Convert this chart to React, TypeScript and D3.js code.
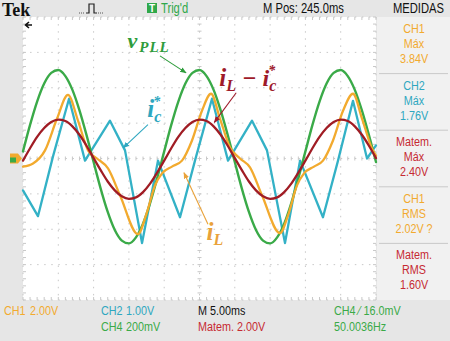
import React, { useEffect, useRef } from 'react';
import * as d3 from 'd3';

const W = 450;
const H = 341;

// 10 horizontal divisions of 5 ms, 8 vertical divisions
const timeDomain: [number, number] = [0, 50];
const divDomain: [number, number] = [-4, 4];

// sinusoidal traces read every 1 ms (values in divisions)
const sampleMs = d3.range(0, 51);
const vPll = [
  0.2, 0.95, 1.61, 2.12, 2.42, 2.5, 2.33, 1.94, 1.36, 0.66,
  -0.1, -0.85, -1.51, -2.02, -2.32, -2.4, -2.23, -1.84, -1.26, -0.56,
  0.2, 0.95, 1.61, 2.12, 2.42, 2.5, 2.33, 1.94, 1.36, 0.66,
  -0.1, -0.85, -1.51, -2.02, -2.32, -2.4, -2.23, -1.84, -1.26, -0.56,
  0.2, 0.95, 1.61, 2.12, 2.42, 2.5, 2.33, 1.94, 1.36, 0.66, -0.1,
];
const iLminusIc = [
  -0.06, 0.29, 0.61, 0.86, 1.03, 1.1, 1.06, 0.91, 0.67, 0.36,
  0.01, -0.33, -0.65, -0.9, -1.07, -1.14, -1.1, -0.95, -0.71, -0.4,
  -0.06, 0.29, 0.61, 0.86, 1.03, 1.1, 1.06, 0.91, 0.67, 0.36,
  0.01, -0.33, -0.65, -0.9, -1.07, -1.14, -1.1, -0.95, -0.71, -0.4,
  -0.06, 0.29, 0.61, 0.86, 1.03, 1.1, 1.06, 0.91, 0.67, 0.36, 0.01,
];

// distorted traces: [ms, div]
const icRef: [number, number][] = [
  [0, -0.9], [2.12, -1.63], [4.25, 0.06], [6.52, 1.69], [8.78, -0.06],
  [12.32, 1.07], [14.45, 0.23], [16.86, -2.39], [19.12, -0.06], [22.24, -1.66],
  [24.36, -0.06], [26.77, 1.69], [29.04, -0.06], [32.44, 1.07], [34.56, 0.23],
  [37.11, -2.39], [39.24, -0.06], [42.49, -1.66], [44.62, -0.06], [46.74, 1.63],
  [48.73, 0.0], [50, 0.37],
];
const iLoad: [number, number][] = [
  [0, -0.23], [1.42, -0.14], [3.12, 0.23], [4.82, 1.13], [6.37, 1.8],
  [7.79, 1.07], [9.21, 0.23], [10.48, 0.0], [12.04, -0.28], [13.74, -1.04],
  [16.29, -2.14], [17.42, -1.61], [18.7, -0.76], [19.69, -0.42], [21.1, -0.23],
  [22.52, -0.06], [23.94, 0.51], [25.35, 1.35], [26.63, 1.83], [27.9, 1.13],
  [29.32, 0.31], [30.74, 0.0], [32.15, -0.25], [33.85, -1.04], [36.4, -2.11],
  [37.54, -1.61], [38.81, -0.76], [39.8, -0.42], [41.22, -0.23], [42.49, -0.06],
  [43.91, 0.51], [45.33, 1.35], [46.74, 1.83], [48.02, 1.13], [49.43, 0.28],
  [50, 0.08],
];

// measurement panel
const measureChannels = ['CH1', 'CH2', 'Matem.', 'CH1', 'Matem.'];
const measureKinds = ['Máx', 'Máx', 'Máx', 'RMS', 'RMS'];
const measureValues = ['3.84V', '1.76V', '2.40V', '2.02V ?', '1.60V'];

// status bar
const scaleRow1 = ['CH1', '2.00V', 'CH2', '1.00V', 'M 5.00ms', 'CH4 ⁄ 16.0mV'];
const scaleRow2 = ['CH4', '200mV', 'Matem. 2.00V', '50.0036Hz'];

const C = {
  ch1: '#f2aa2e',
  ch2: '#33b1c6',
  ch4: '#3aaa48',
  math: '#a01c24',
  mathText: '#c62a32',
  grid: '#c8c8c8',
};
const channelColor = (c: string) =>
  c === 'CH1' ? C.ch1 : c === 'CH2' ? '#2ea7c0' : c === 'CH4' ? C.ch4 : C.mathText;

export default function App() {
  const svgRef = useRef<SVGSVGElement | null>(null);

  useEffect(() => {
    if (!svgRef.current) return;
    const svg = d3.select(svgRef.current);
    svg.selectAll('*').remove();

    const plot = { left: 23, right: 376, top: 17, bottom: 300 };
    const x = d3.scaleLinear().domain(timeDomain).range([plot.left, plot.right]);
    const y = d3.scaleLinear().domain(divDomain).range([plot.bottom, plot.top]);
    const sans = "'Liberation Sans', Arial, sans-serif";
    const serif = "'Liberation Serif', 'Times New Roman', serif";

    // condensed text, like the scope's narrow font
    const narrow = (px: number, py: number, s: string, col: string, size = 12.5, anchor = 'start') =>
      svg.append('text')
        .attr('transform', `translate(${px},${py}) scale(0.8,1)`)
        .attr('text-anchor', anchor)
        .attr('font-family', sans).attr('font-size', size)
        .attr('fill', col).text(s);

    // backgrounds
    svg.append('rect').attr('width', W).attr('height', H).attr('fill', '#e6e6e6');
    svg.append('rect')
      .attr('x', plot.left).attr('y', plot.top)
      .attr('width', plot.right - plot.left).attr('height', plot.bottom - plot.top)
      .attr('fill', '#ffffff');
    svg.append('rect')
      .attr('x', plot.right + 1).attr('y', plot.top)
      .attr('width', W - plot.right - 1).attr('height', plot.bottom - plot.top)
      .attr('fill', '#f1f1f1');

    // graticule
    const grid = svg.append('g').attr('stroke', C.grid).attr('stroke-width', 1);
    d3.range(0, 51, 5).forEach(t => {
      grid.append('line')
        .attr('x1', x(t)).attr('x2', x(t))
        .attr('y1', plot.top).attr('y2', plot.bottom)
        .attr('stroke-dasharray', '1.5,5.6');
    });
    d3.range(-4, 5).forEach(v => {
      grid.append('line')
        .attr('x1', plot.left).attr('x2', plot.right)
        .attr('y1', y(v)).attr('y2', y(v))
        .attr('stroke-dasharray', '1.5,5.56');
    });
    d3.range(0, 50.01, 1).forEach(t => {
      grid.append('line').attr('x1', x(t)).attr('x2', x(t)).attr('y1', plot.top).attr('y2', plot.top + 3);
      grid.append('line').attr('x1', x(t)).attr('x2', x(t)).attr('y1', plot.bottom - 3).attr('y2', plot.bottom);
      grid.append('line').attr('x1', x(t)).attr('x2', x(t)).attr('y1', y(0) - 2).attr('y2', y(0) + 2);
    });
    d3.range(-4, 4.01, 0.2).forEach(v => {
      grid.append('line').attr('x1', plot.left).attr('x2', plot.left + 3).attr('y1', y(v)).attr('y2', y(v));
      grid.append('line').attr('x1', plot.right - 3).attr('x2', plot.right).attr('y1', y(v)).attr('y2', y(v));
      grid.append('line').attr('x1', x(25) - 2).attr('x2', x(25) + 2).attr('y1', y(v)).attr('y2', y(v));
    });

    // traces
    const smooth = d3.line<[number, number]>()
      .x(d => x(d[0])).y(d => y(d[1]))
      .curve(d3.curveMonotoneX);
    const sharp = d3.line<[number, number]>()
      .x(d => x(d[0])).y(d => y(d[1]));

    const g = svg.append('g').attr('fill', 'none').attr('stroke-linejoin', 'round').attr('stroke-linecap', 'round');
    g.append('path').attr('d', sharp(icRef)).attr('stroke', C.ch2).attr('stroke-width', 2.3);
    g.append('path')
      .attr('d', smooth(sampleMs.map((t, i) => [t, vPll[i]] as [number, number])))
      .attr('stroke', C.ch4).attr('stroke-width', 2.4);
    g.append('path').attr('d', smooth(iLoad)).attr('stroke', C.ch1).attr('stroke-width', 2.3);
    g.append('path')
      .attr('d', smooth(sampleMs.map((t, i) => [t, iLminusIc[i]] as [number, number])))
      .attr('stroke', C.math).attr('stroke-width', 2.3);

    // ground marker on the left edge
    svg.append('path')
      .attr('d', `M10,${y(0) - 5} H18 L22,${y(0)} L18,${y(0) + 5} H10 Z`)
      .attr('fill', C.ch1);
    svg.append('rect')
      .attr('x', 10).attr('y', y(0) - 1).attr('width', 6).attr('height', 5)
      .attr('fill', C.ch4);

    // annotations
    const defs = svg.append('defs');
    const arrowColors: Record<string, string> = {
      vpll: '#2e9c3c', ic: '#2ea7c0', diff: '#9e1a2a', il: '#e9a23a',
    };
    Object.entries(arrowColors).forEach(([k, col]) => {
      defs.append('marker')
        .attr('id', `arr-${k}`).attr('viewBox', '0 0 10 10')
        .attr('refX', 9).attr('refY', 5)
        .attr('markerWidth', 6).attr('markerHeight', 6)
        .attr('orient', 'auto')
        .append('path').attr('d', 'M0,1 L10,5 L0,9 Z').attr('fill', col);
    });
    const arrows: { k: string; from: [number, number]; to: [number, number] }[] = [
      { k: 'vpll', from: [19.4, 2.9], to: [23.1, 2.42] },
      { k: 'ic', from: [17.7, 0.96], to: [14.2, 0.3] },
      { k: 'diff', from: [30.2, 1.86], to: [27.1, 1.02] },
      { k: 'il', from: [26.2, -1.86], to: [22.8, -0.4] },
    ];
    arrows.forEach(a => {
      svg.append('line')
        .attr('x1', x(a.from[0])).attr('y1', y(a.from[1]))
        .attr('x2', x(a.to[0])).attr('y2', y(a.to[1]))
        .attr('stroke', arrowColors[a.k]).attr('stroke-width', 1.1)
        .attr('marker-end', `url(#arr-${a.k})`);
    });

    const label = (t: number, v: number, col: string) =>
      svg.append('text')
        .attr('x', x(t)).attr('y', y(v))
        .attr('fill', col).attr('font-family', serif)
        .attr('font-style', 'italic').attr('font-weight', 'bold');

    const lv = label(14.8, 3.12, arrowColors.vpll);
    lv.append('tspan').attr('font-size', 22).text('v');
    lv.append('tspan').attr('font-size', 15).attr('dy', 4).attr('dx', 2).attr('letter-spacing', 1).text('PLL');

    const lic = label(17.6, 1.18, arrowColors.ic);
    lic.append('tspan').attr('font-size', 25).text('i');
    lic.append('tspan').attr('font-size', 16).attr('dy', 5).text('c');
    lic.append('tspan').attr('font-size', 14).attr('dy', -16).attr('dx', -8).text('*');

    const ld = label(27.8, 2.04, arrowColors.diff);
    ld.append('tspan').attr('font-size', 25).text('i');
    ld.append('tspan').attr('font-size', 16).attr('dy', 5).text('L');
    ld.append('tspan').attr('font-size', 24).attr('dy', -5).text(' − i');
    ld.append('tspan').attr('font-size', 16).attr('dy', 5).text('c');
    ld.append('tspan').attr('font-size', 14).attr('dy', -16).attr('dx', -8).text('*');

    const li = label(26.0, -2.3, arrowColors.il);
    li.append('tspan').attr('font-size', 25).text('i');
    li.append('tspan').attr('font-size', 16).attr('dy', 5).text('L');

    // top bar
    svg.append('text')
      .attr('x', 2).attr('y', 16)
      .attr('font-family', serif).attr('font-weight', 'bold').attr('font-size', 18)
      .attr('fill', '#111').text('Tek');
    svg.append('path')
      .attr('d', 'M32,25 H26 M29,22 L25.5,25 L29,28')
      .attr('fill', 'none').attr('stroke', '#111').attr('stroke-width', 1.6);
    svg.append('path')
      .attr('d', 'M86,13 H89 V4 H94 V13 H97')
      .attr('fill', 'none').attr('stroke', '#222').attr('stroke-width', 1.2);
    svg.append('path')
      .attr('d', 'M79,13 H85 M98,13 H103')
      .attr('fill', 'none').attr('stroke', '#555').attr('stroke-width', 1).attr('stroke-dasharray', '1,1');
    svg.append('rect').attr('x', 147).attr('y', 3).attr('width', 10).attr('height', 10).attr('fill', '#2fa84a');
    svg.append('text')
      .attr('x', 152).attr('y', 12).attr('text-anchor', 'middle')
      .attr('font-family', sans).attr('font-weight', 'bold').attr('font-size', 10)
      .attr('fill', '#fff').text('T');
    narrow(161, 12.5, "Trig'd", '#2fa84a', 14);
    narrow(263, 12.5, 'M Pos: 245.0ms', '#111', 14);
    narrow(393, 12.5, 'MEDIDAS', '#111', 14);

    // measurement panel
    const entryH = (plot.bottom - plot.top) / measureChannels.length;
    const cx = (plot.right + W) / 2 + 1;
    measureChannels.forEach((ch, i) => {
      const top = plot.top + i * entryH;
      const col = channelColor(ch);
      [ch, measureKinds[i], measureValues[i]].forEach((s, j) => {
        narrow(cx, top + 16 + j * 15, s, col, 13.5, 'middle');
      });
      if (i > 0) {
        svg.append('line')
          .attr('x1', plot.right + 3).attr('x2', W - 2)
          .attr('y1', top).attr('y2', top)
          .attr('stroke', '#c9c9c9').attr('stroke-width', 1);
      }
    });

    // status bar
    const row1X = [4, 30, 101, 126, 198, 334];
    const row1Col = [C.ch1, C.ch1, '#2ea7c0', '#2ea7c0', '#111', C.ch4];
    scaleRow1.forEach((s, i) => narrow(row1X[i], 315, s, row1Col[i], 13.5));
    const row2X = [101, 126, 198, 334];
    const row2Col = [C.ch4, C.ch4, C.mathText, C.ch4];
    scaleRow2.forEach((s, i) => narrow(row2X[i], 331, s, row2Col[i], 13.5));
  }, []);

  return (
    <svg
      ref={svgRef}
      width={W}
      height={H}
      style={{ position: 'absolute', left: 0, top: 0, display: 'block' }}
    />
  );
}
